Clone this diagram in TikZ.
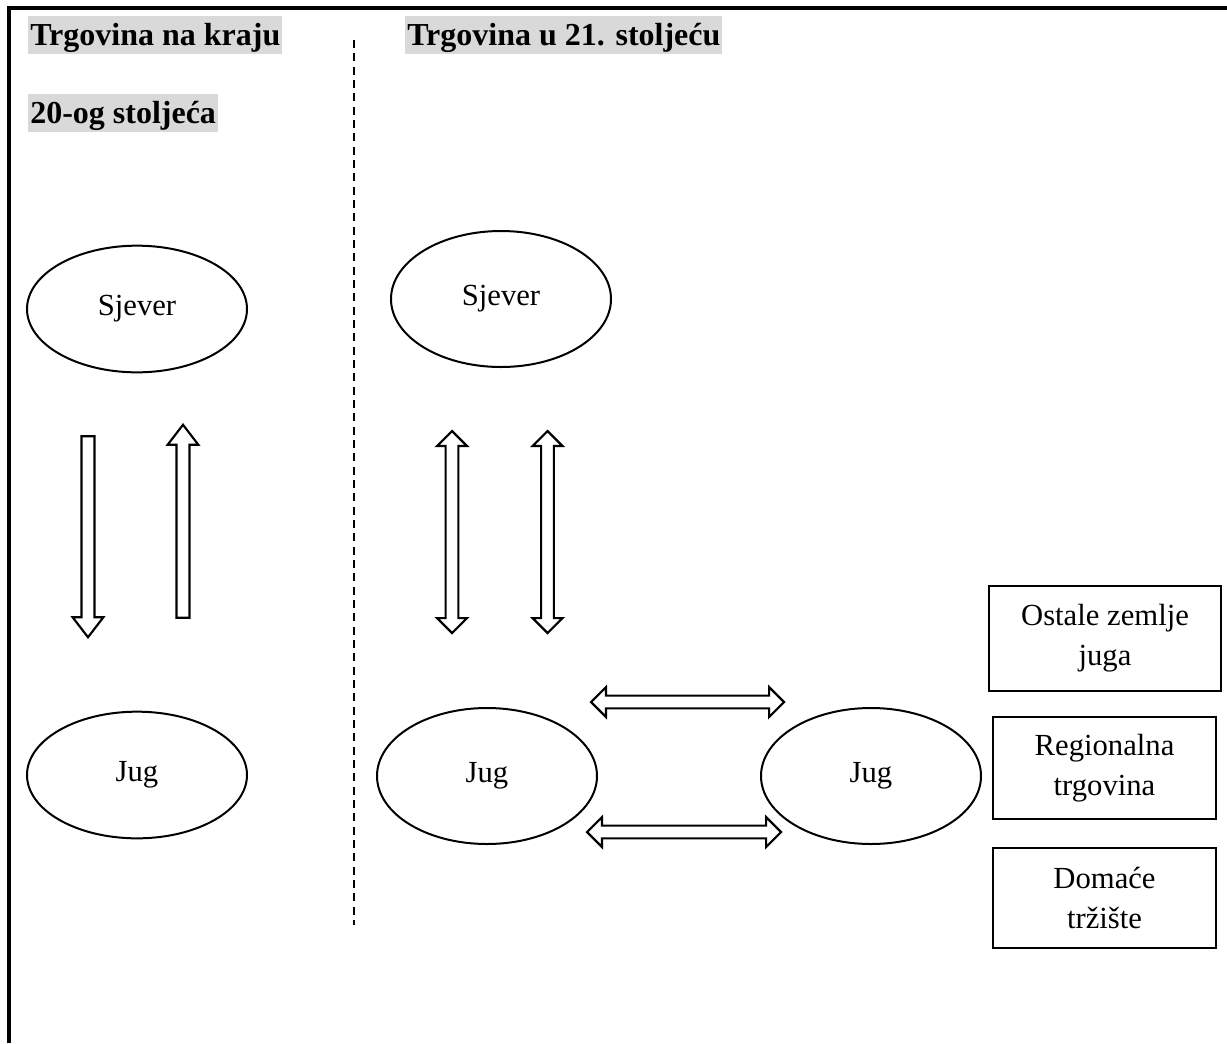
\documentclass[tikz,border=0pt]{standalone}
\usepackage{fontspec}
\setmainfont{Liberation Serif}
\usetikzlibrary{shapes.geometric,shapes.arrows}

\definecolor{hdrgray}{RGB}{217,217,217}

\begin{document}
\begin{tikzpicture}[x=0.75pt,y=0.75pt,yscale=-1,xscale=1,
  every node/.style={font=\fontsize{23}{30}\selectfont},
  hdr/.style={fill=hdrgray, anchor=north west, inner xsep=1.5pt, inner ysep=0pt, text height=21.75pt, text depth=6.75pt, font=\fontsize{24}{30}\selectfont\bfseries},
  oval/.style={draw, line width=1.5pt, ellipse, minimum width=165pt, inner sep=0pt},
  regbox/.style={draw, line width=1pt, rectangle, align=center, inner sep=0pt},
  sarrow/.style={draw, line width=1.6pt, single arrow, single arrow head extend=6.6pt, single arrow tip angle=75, inner xsep=0pt, inner ysep=4.1pt, minimum width=0pt},
  darrow/.style={draw, line width=1.6pt, double arrow, double arrow head extend=6.4pt, double arrow tip angle=90, inner xsep=0pt, inner ysep=4pt, minimum width=0pt}]
\useasboundingbox (0,0) rectangle (1227,1043);

%Frame
\draw [line width=2.4pt] (9,1043) -- (9,8) -- (1227,8) ;
%Dashed divider
\draw [line width=1pt, dash pattern=on 6pt off 4pt] (354,40) -- (354,925) ;

% Text Node
\node [hdr] (hdrKrajA) at (28,16) {Trgovina na kraju};
% Text Node
\node [hdr] (hdrKrajB) at (28,94) {20-og stoljeća};
% Text Node
\node [hdr] (hdrNovo) at (405,16) {Trgovina u 21. stoljeću};

%Shape: Ellipse
\node [oval, minimum height=95pt] (sjeverL) at (137,309) {Sjever};
%Shape: Ellipse
\node [oval, minimum height=95pt] (jugL) at (137,775) {Jug};
%Shape: Ellipse
\node [oval, minimum height=102pt] (sjeverR) at (501,299) {Sjever};
%Shape: Ellipse
\node [oval, minimum height=102pt] (jugR) at (487,776) {Jug};
%Shape: Ellipse
\node [oval, minimum height=102pt] (jugS) at (871,776) {Jug};

%Shape: Right Arrow
\node [sarrow, minimum height=150.75pt, rotate=-90] (tokDolje) at (88,532.5) {};
%Shape: Right Arrow
\node [sarrow, minimum height=144.75pt, rotate=90] (tokGore) at (183,525.5) {};
%Shape: Left Right Arrow
\node [darrow, minimum height=151.5pt, rotate=90] (vezaA) at (452,532) {};
%Shape: Left Right Arrow
\node [darrow, minimum height=151.5pt, rotate=90] (vezaB) at (547.5,532) {};
%Shape: Left Right Arrow
\node [darrow, minimum height=144.75pt] (vezaGore) at (687.5,702) {};
%Shape: Left Right Arrow
\node [darrow, minimum height=145.5pt] (vezaDolje) at (684,832) {};

%Shape: Rectangle
\node [regbox, minimum width=174pt, minimum height=78.75pt] (ostale) at (1105,638.5) {Ostale zemlje\\juga};
%Shape: Rectangle
\node [regbox, minimum width=167.25pt, minimum height=76.5pt] (regionalna) at (1104.5,768) {Regionalna\\trgovina};
%Shape: Rectangle
\node [regbox, minimum width=167.25pt, minimum height=75pt] (domace) at (1104.5,898) {Domaće\\tržište};

\end{tikzpicture}
\end{document}
